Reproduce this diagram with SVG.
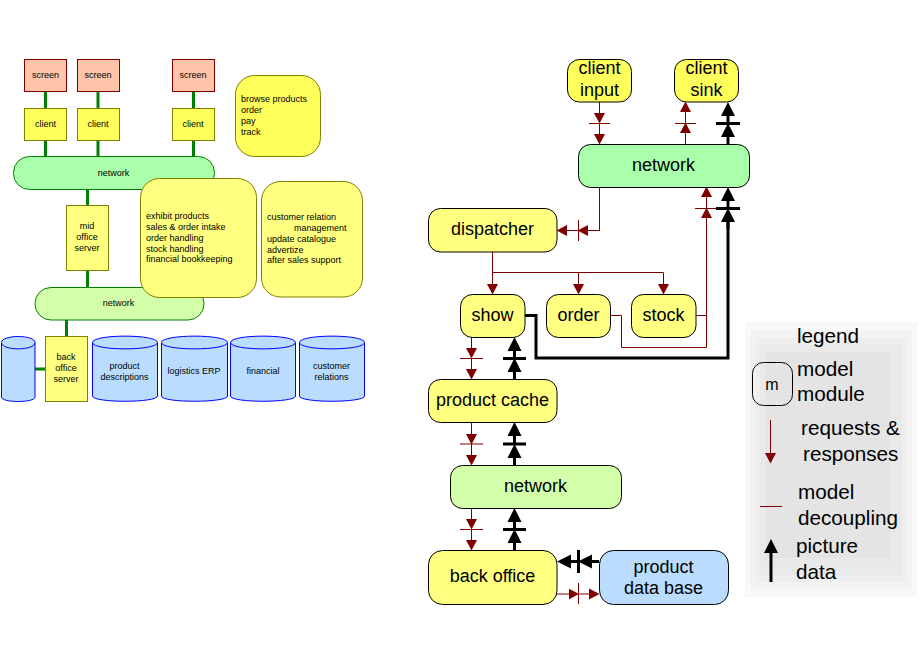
<svg xmlns="http://www.w3.org/2000/svg" width="920" height="660" viewBox="0 0 920 660">
<style>
text{font-family:"Liberation Sans",Arial,sans-serif;fill:#000;text-anchor:middle}
.s text,text.s{font-size:9px}
.b text,text.b{font-size:18px}
#legend text{font-size:20.700px}
#legend .l{text-anchor:start}
#legend-m text{font-size:16px}
.l{text-anchor:start}
.scr{fill:#ffc4aa;stroke:#800000;stroke-width:1}
.yl{fill:#ffff80;stroke:#808000;stroke-width:1}
.yb{fill:#ffff5c;stroke:#808000;stroke-width:1}
.n1{fill:#aaffaa;stroke:#008000;stroke-width:1}
.n2{fill:#d4ffaa;stroke:#008000;stroke-width:1}
.cy{fill:#b9dcff;stroke:#0000ff;stroke-width:1}
.m{stroke:#000;stroke-width:1}
.g{stroke:#008000;stroke-width:3;fill:none}
.r{stroke:#800000;stroke-width:1;fill:none}
.k{stroke:#000;stroke-width:3;fill:none}
.ra{marker-end:url(#ra)}
.ka{marker-end:url(#ka)}
</style>
<defs>
<marker id="ra" markerUnits="userSpaceOnUse" markerWidth="11" markerHeight="12" refX="5" refY="6" orient="auto"><path d="M0 0.500L10.500 6L0 11.500Z" fill="#800000"/></marker>
<marker id="ka" markerUnits="userSpaceOnUse" markerWidth="14" markerHeight="16" refX="6" refY="8" orient="auto"><path d="M0 1L14 8L0 15Z" fill="#000"/></marker>
</defs>
<g id="legend-bg">
<rect x="745" y="322" width="172" height="275" fill="#f8f8f8"/>
<rect x="750" y="330" width="162" height="259" fill="#f3f3f3"/>
<rect x="756" y="338" width="151" height="244" fill="#eeeeee"/>
<rect x="760" y="345" width="142" height="230" fill="#e9e9e9"/>
<rect x="766" y="353" width="124" height="205" fill="#e4e4e4"/>
</g>
<g id="connectors">
<g class="g">
<path d="M45.500 91V109M98 91V109M193.500 91V109M45.500 140V158M98 140V158M193.500 140V158M87.500 188V206M87.500 269V288M66.500 319V337M34 369H46"/>
</g>
<g class="r">
<path class="ra" d="M599.500 102V118"/><path class="ra" d="M599.500 123V139"/><path d="M589 123.500H610"/>
<path class="ra" d="M685.500 144V128"/><path class="ra" d="M685.500 123V107"/><path d="M675 123.500H696"/>
<path d="M599.500 187.500V230.500H578"/><path class="ra" d="M578 230.500H562"/><path class="ra" d="M599.500 230.500H583"/><path d="M578.500 220V241"/>
<path class="ra" d="M492.500 252V289"/><path d="M492.500 272.500H663.500"/><path class="ra" d="M578.500 272.500V289"/><path class="ra" d="M663.500 272.500V289"/>
<path d="M696 315.500H706.500M610.500 315.500H621.500V347.500H706.500V208"/>
<path class="ra" d="M706.500 208V192"/><path class="ra" d="M706.500 229V213"/><path d="M695 208.500H716"/>
<path class="ra" d="M471.500 337V353"/><path class="ra" d="M471.500 358V374"/><path d="M460 358.500H483"/>
<path class="ra" d="M471.500 422V439"/><path class="ra" d="M471.500 444V460"/><path d="M460 444H483"/>
<path class="ra" d="M471.500 508V524"/><path class="ra" d="M471.500 529V545"/><path d="M460 529.500H483"/>
<path class="ra" d="M557 594H573.500"/><path class="ra" d="M578.500 594H594"/><path d="M578.500 583V604"/>
</g>
<g class="k">
<path class="ka" d="M728 144V131"/><path class="ka" d="M728 123V110"/><path d="M716 123.500H740"/>
<path d="M525 315.500H536V358H728V216"/>
<path class="ka" d="M728 229V216"/><path class="ka" d="M728 208V195"/><path d="M716 208.500H740"/>
<path class="ka" d="M514.500 379V366"/><path class="ka" d="M514.500 358V345"/><path d="M503 358.500H526"/>
<path class="ka" d="M514.500 465V452"/><path class="ka" d="M514.500 444V430"/><path d="M503 444H526"/>
<path class="ka" d="M514.500 550V537"/><path class="ka" d="M514.500 529V516"/><path d="M503 529.500H526"/>
<path class="ka" d="M599 561.500H586"/><path class="ka" d="M578 561.500H565"/><path d="M578.500 550V573"/>
</g>
</g>
<g id="left" class="s">
<g id="screen1"><rect class="scr" x="24.500" y="59.500" width="42" height="32"/><text x="45.500" y="78">screen</text></g>
<g id="screen2"><rect class="scr" x="77.500" y="59.500" width="42" height="32"/><text x="98" y="78">screen</text></g>
<g id="screen3"><rect class="scr" x="172.500" y="59.500" width="42" height="32"/><text x="193" y="78">screen</text></g>
<g id="client1"><rect class="yb" x="24.500" y="108.500" width="42" height="32"/><text x="45.500" y="127">client</text></g>
<g id="client2"><rect class="yb" x="77.500" y="108.500" width="42" height="32"/><text x="98" y="127">client</text></g>
<g id="client3"><rect class="yb" x="172.500" y="108.500" width="42" height="32"/><text x="193" y="127">client</text></g>
<g id="usecases"><rect class="yb" x="235.500" y="75.500" width="85" height="81" rx="19"/><text class="l" x="241" y="102">browse products</text><text class="l" x="241" y="113">order</text><text class="l" x="241" y="124">pay</text><text class="l" x="241" y="134.500">track</text></g>
<g id="net1"><rect class="n1" x="13.500" y="156.500" width="201" height="33" rx="16"/><text x="113.500" y="175.500">network</text></g>
<g id="mid"><rect class="yl" x="66.500" y="205.500" width="42" height="65"/><text x="87" y="229">mid</text><text x="87" y="240">office</text><text x="87" y="251">server</text></g>
<g id="net2"><rect class="n2" x="35" y="287.500" width="169" height="32.500" rx="16"/><text x="118.500" y="306">network</text></g>
<g id="exhibit"><rect class="yl" x="140.500" y="178.500" width="116" height="119" rx="19"/><text class="l" x="146" y="219">exhibit products</text><text class="l" x="146" y="230">sales &amp; order intake</text><text class="l" x="146" y="241">order handling</text><text class="l" x="146" y="252">stock handling</text><text class="l" x="146" y="262">financial bookkeeping</text></g>
<g id="customer"><rect class="yl" x="261.500" y="181.500" width="101" height="115.500" rx="19"/><text class="l" x="267" y="220">customer relation</text><text class="l" x="294" y="231">management</text><text class="l" x="267" y="242">update catalogue</text><text class="l" x="267" y="253">advertize</text><text class="l" x="267" y="263">after sales support</text></g>
<g id="back"><rect class="yl" x="45.500" y="336.500" width="42" height="65"/><text x="66" y="360">back</text><text x="66" y="371">office</text><text x="66" y="382">server</text></g>
<g id="db0"><path class="cy" d="M1.500 342.500C1.500 334.500 35 334.500 35 342.500V397C35 403 1.500 403 1.500 397Z"/><path class="cy" d="M1.500 342.500C1.500 351 35 351 35 342.500"/></g>
<g id="db1"><path class="cy" d="M92.500 342.500C92.500 334 157.500 334 157.500 342.500V396C157.500 403 92.500 403 92.500 396Z"/><path class="cy" d="M92.500 342.500C92.500 351 157.500 351 157.500 342.500"/><text x="124.500" y="369">product</text><text x="124.500" y="380">descriptions</text></g>
<g id="db2"><path class="cy" d="M161.500 342.500C161.500 334 227.500 334 227.500 342.500V396C227.500 403 161.500 403 161.500 396Z"/><path class="cy" d="M161.500 342.500C161.500 351 227.500 351 227.500 342.500"/><text x="194" y="374">logistics ERP</text></g>
<g id="db3"><path class="cy" d="M230.500 342.500C230.500 334 295.500 334 295.500 342.500V396C295.500 403 230.500 403 230.500 396Z"/><path class="cy" d="M230.500 342.500C230.500 351 295.500 351 295.500 342.500"/><text x="263" y="374">financial</text></g>
<g id="db4"><path class="cy" d="M299.500 342.500C299.500 334 364.500 334 364.500 342.500V396C364.500 403 299.500 403 299.500 396Z"/><path class="cy" d="M299.500 342.500C299.500 351 364.500 351 364.500 342.500"/><text x="331.500" y="369">customer</text><text x="331.500" y="380">relations</text></g>
</g>
<g id="right" class="b">
<g id="client-input"><rect class="yb m" x="567.500" y="59.500" width="64" height="42.500" rx="12"/><text x="599.500" y="74">client</text><text x="599.500" y="96">input</text></g>
<g id="client-sink"><rect class="yb m" x="674.500" y="59.500" width="64" height="42.500" rx="12"/><text x="706.500" y="74">client</text><text x="706.500" y="96">sink</text></g>
<g id="network-top"><rect class="n1 m" x="578.500" y="144.500" width="171" height="43" rx="12"/><text x="663.500" y="171">network</text></g>
<g id="dispatcher"><rect class="yl m" x="428.500" y="208.500" width="128.500" height="43.500" rx="12"/><text x="492.500" y="235">dispatcher</text></g>
<g id="show"><rect class="yl m" x="460.500" y="294.500" width="64.500" height="43" rx="12"/><text x="492.500" y="321">show</text></g>
<g id="order"><rect class="yl m" x="546.500" y="294.500" width="64" height="43" rx="12"/><text x="578.500" y="321">order</text></g>
<g id="stock"><rect class="yl m" x="631.500" y="294.500" width="64.500" height="43" rx="12"/><text x="663.500" y="321">stock</text></g>
<g id="product-cache"><rect class="yl m" x="428.500" y="379.500" width="128.500" height="43" rx="12"/><text x="492.500" y="406">product cache</text></g>
<g id="network-low"><rect class="n2 m" x="450.500" y="465.500" width="171" height="43" rx="12"/><text x="535.500" y="491.500">network</text></g>
<g id="back-office"><rect class="yl m" x="428.500" y="550.500" width="128.500" height="54" rx="14"/><text x="492.500" y="582">back office</text></g>
<g id="product-db"><rect class="cy m" x="599.500" y="550.500" width="129" height="54" rx="14"/><text x="663.500" y="573">product</text><text x="663.500" y="594">data base</text></g>
</g>
<g id="legend">
<text x="828" y="343">legend</text>
<g id="legend-m"><rect x="752.500" y="362.500" width="40" height="43" rx="11" fill="none" stroke="#000"/><text x="772" y="390">m</text></g>
<text class="l" x="797" y="376">model</text><text class="l" x="797" y="401">module</text>
<path class="r ra" d="M770.500 420V458"/>
<text class="l" x="801" y="435">requests &amp;</text><text class="l" x="803" y="461">responses</text>
<path class="r" d="M760 506.500H782"/>
<text class="l" x="798" y="499">model</text><text class="l" x="798" y="525">decoupling</text>
<path class="k ka" d="M771 582V547"/>
<text class="l" x="796" y="553">picture</text><text class="l" x="796" y="579">data</text>
</g>
</svg>
